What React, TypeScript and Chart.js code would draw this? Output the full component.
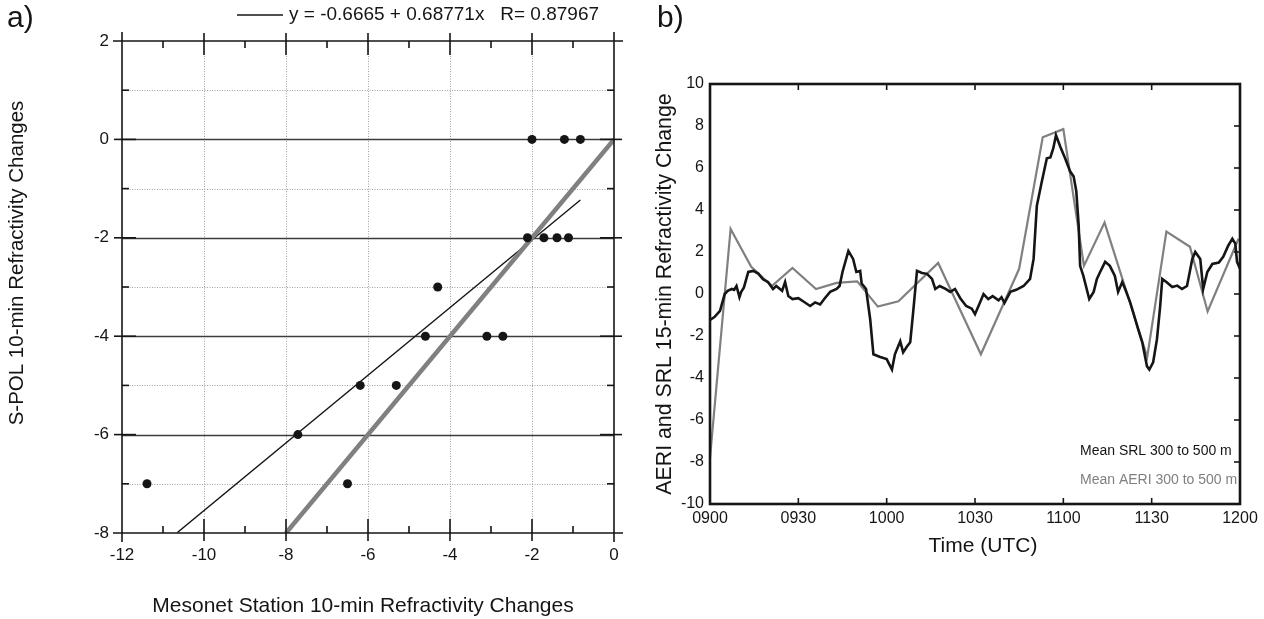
import React, { useEffect, useRef } from "react";
import { Chart, registerables } from "chart.js";

Chart.register(...registerables);

// ---------------- Panel a) data ----------------
const mesonetChanges = [-2.0, -1.21, -0.82, -2.11, -1.71, -1.39, -1.11, -4.3, -4.6, -3.1, -2.71, -6.19, -5.31, -7.71, -11.39, -6.5];
const spolChanges = [0, 0, 0, -2, -2, -2, -2, -3, -4, -4, -4, -5, -5, -6, -7, -7];
const fitIntercept = -0.6665;
const fitSlope = 0.68771;
const fitR = 0.87967;
const fitXRange = [-10.65, -0.82];
const oneToOneRange = [-8, 0];
const panelAXTicks = [-12, -10, -8, -6, -4, -2, 0];
const panelAXMinor = [-11, -9, -7, -5, -3, -1];
const panelAYTicks = [-8, -6, -4, -2, 0, 2];
const panelAYMinor = [-7, -5, -3, -1, 1];

// ---------------- Panel b) data ----------------
const srlMinutes = [
  0, 1.5, 3.4, 5, 6, 7.4, 8.2, 9, 10, 10.6, 11.5, 13, 14.7, 16.4, 18, 19.7, 21.4, 22.5, 24.5, 25.5,
  26.6, 28, 30, 32, 34, 35.7, 37.4, 39, 40.8, 43, 44, 45, 47, 48.6, 49.7, 51, 51.5, 53, 54.4, 55.5,
  57.8, 60, 61.8, 62.8, 64.6, 65.6, 66.9, 68, 69, 70.3, 72, 73.7, 75.4, 76.5, 78, 80, 81.6, 83.2, 85, 87,
  88.9, 90, 91.7, 92.9, 94.5, 96, 98, 99, 100, 102, 104, 106.5, 108.7, 109.9, 111, 112.7, 114.4, 115.6, 116.6, 117.5,
  119, 120.6, 122.3, 123.5, 124.4, 125.2, 125.7, 126.8, 128.8, 130.3, 131.4, 132.5, 134.2, 135.8, 137.5, 138.6, 140, 141, 142.7, 143.7,
  145.4, 146.8, 148.4, 149.2, 150.5, 151.8, 152.9, 153.6, 155, 157, 158.7, 160.3, 162, 163.8, 164.8, 166.5, 167.5, 168.9, 170.6, 172.8,
  174.3, 176, 177.4, 178.4, 179, 180,
];
const srlValues = [
  -1.24, -1.1, -0.8, 0.0, 0.15, 0.24, 0.2, 0.38, -0.15, 0.1, 0.3, 1.05, 1.1, 0.97, 0.7, 0.57, 0.24, 0.38, 0.15, 0.57,
  -0.1, -0.24, -0.2, -0.38, -0.57, -0.4, -0.5, -0.2, 0.1, 0.24, 0.38, 1.05, 2.05, 1.67, 1.05, 1.1, 0.5, 0.24, -1.2, -2.87,
  -3.0, -3.1, -3.6, -2.87, -2.25, -2.78, -2.5, -2.3, -0.86, 1.1, 1.0, 0.96, 0.72, 0.24, 0.38, 0.24, 0.1, 0.24, -0.2, -0.57,
  -0.7, -0.96, -0.4, 0.0, -0.24, -0.1, -0.3, -0.15, -0.43, 0.1, 0.2, 0.38, 0.72, 1.67, 4.2, 5.36, 6.46, 6.5, 6.94, 7.56,
  7.0, 6.46, 5.84, 5.6, 4.9, 3.3, 1.34, 0.86, -0.24, 0.1, 0.72, 1.05, 1.53, 1.34, 0.86, 0.1, 0.57, 0.24, -0.4, -0.86,
  -1.67, -2.3, -3.44, -3.6, -3.25, -2.15, -0.57, 0.72, 0.57, 0.33, 0.4, 0.24, 0.38, 1.67, 2.0, 1.67, 0.24, 1.05, 1.43, 1.5,
  1.77, 2.3, 2.63, 2.4, 1.53, 1.2,
];
const aeriMinutes = [0, 7, 14, 21, 28, 36, 43, 50, 57, 64, 77.5, 92, 105, 113, 120, 127, 134, 148.5, 155, 163, 169, 179.5];
const aeriValues = [-7.8, 3.1, 1.3, 0.38, 1.24, 0.24, 0.53, 0.6, -0.6, -0.35, 1.48, -2.87, 1.2, 7.46, 7.85, 1.34, 3.4, -3.0, 2.97, 2.25, -0.83, 2.63];
const timeTickMinutes = [0, 30, 60, 90, 120, 150, 180];
const timeTickLabels = ["0900", "0930", "1000", "1030", "1100", "1130", "1200"];
const panelBYTicks = [-10, -8, -6, -4, -2, 0, 2, 4, 6, 8, 10];

const FONT = '"Liberation Sans", Arial, Helvetica, sans-serif';
const INK = "#151515";
const GREY = "#808080";

Chart.defaults.font.family = FONT;
Chart.defaults.color = INK;

function seg(ctx: CanvasRenderingContext2D, x1: number, y1: number, x2: number, y2: number) {
  ctx.beginPath();
  ctx.moveTo(x1, y1);
  ctx.lineTo(x2, y2);
  ctx.stroke();
}

const gridA = {
  id: "gridA",
  beforeDatasetsDraw(chart: any) {
    const { ctx, chartArea: ca, scales } = chart;
    const x = scales.x;
    const y = scales.y;
    ctx.save();
    ctx.lineWidth = 1;
    ctx.strokeStyle = "#a0a0a0";
    ctx.setLineDash([1, 1.5]);
    panelAXTicks.slice(1, -1).forEach((v) => {
      const px = Math.round(x.getPixelForValue(v)) + 0.5;
      seg(ctx, px, ca.top, px, ca.bottom);
    });
    panelAYMinor.forEach((v) => {
      const py = Math.round(y.getPixelForValue(v)) + 0.5;
      seg(ctx, ca.left, py, ca.right, py);
    });
    ctx.setLineDash([]);
    ctx.strokeStyle = "#3c3c3c";
    ctx.lineWidth = 1.3;
    panelAYTicks.slice(1, -1).forEach((v) => {
      const py = Math.round(y.getPixelForValue(v)) + 0.5;
      seg(ctx, ca.left, py, ca.right, py);
    });
    ctx.restore();
  },
  afterDraw(chart: any) {
    const { ctx, chartArea: ca, scales } = chart;
    const x = scales.x;
    const y = scales.y;
    ctx.save();
    ctx.strokeStyle = INK;
    ctx.lineWidth = 1.6;
    const ext = 9;
    seg(ctx, ca.left - ext, ca.top, ca.right + ext, ca.top);
    seg(ctx, ca.left - ext, ca.bottom, ca.right + ext, ca.bottom);
    seg(ctx, ca.left, ca.top - ext, ca.left, ca.bottom + ext);
    seg(ctx, ca.right, ca.top - ext, ca.right, ca.bottom + ext);
    panelAXTicks.slice(1, -1).forEach((v) => {
      const px = x.getPixelForValue(v);
      seg(ctx, px, ca.bottom - 14, px, ca.bottom + 8);
      seg(ctx, px, ca.top - 8, px, ca.top + 14);
    });
    panelAXMinor.forEach((v) => {
      const px = x.getPixelForValue(v);
      seg(ctx, px, ca.bottom - 7, px, ca.bottom);
      seg(ctx, px, ca.top, px, ca.top + 7);
    });
    panelAYTicks.slice(1, -1).forEach((v) => {
      const py = y.getPixelForValue(v);
      seg(ctx, ca.left - 8, py, ca.left + 14, py);
      seg(ctx, ca.right - 14, py, ca.right + 8, py);
    });
    panelAYMinor.forEach((v) => {
      const py = y.getPixelForValue(v);
      seg(ctx, ca.left, py, ca.left + 7, py);
      seg(ctx, ca.right - 7, py, ca.right, py);
    });

    // panel label
    ctx.fillStyle = INK;
    ctx.textBaseline = "middle";
    ctx.textAlign = "left";
    ctx.font = `30px ${FONT}`;
    ctx.fillText("a)", 7, 19);

    // legend
    ctx.lineWidth = 1.4;
    seg(ctx, 237, 15, 283, 15);
    ctx.font = `19px ${FONT}`;
    ctx.fillText(`y = ${fitIntercept} + ${fitSlope}x   R= ${fitR}`, 289, 15);

    // y title
    ctx.save();
    ctx.translate(17, 263);
    ctx.rotate(-Math.PI / 2);
    ctx.textAlign = "center";
    ctx.font = `20.5px ${FONT}`;
    ctx.fillText("S-POL 10-min Refractivity Changes", 0, 0);
    ctx.restore();

    // x title
    ctx.textAlign = "center";
    ctx.font = `21px ${FONT}`;
    ctx.fillText("Mesonet Station 10-min Refractivity Changes", 363, 606);
    ctx.restore();
  },
};

const frameB = {
  id: "frameB",
  afterDraw(chart: any) {
    const { ctx, chartArea: ca, scales } = chart;
    const x = scales.x;
    const y = scales.y;
    ctx.save();
    ctx.strokeStyle = INK;
    ctx.lineWidth = 1.6;
    timeTickMinutes.slice(1, -1).forEach((v) => {
      const px = x.getPixelForValue(v);
      seg(ctx, px, ca.top, px, ca.top + 6);
      seg(ctx, px, ca.bottom - 6, px, ca.bottom);
    });
    panelBYTicks.slice(1, -1).forEach((v) => {
      const py = y.getPixelForValue(v);
      seg(ctx, ca.right - 6, py, ca.right, py);
    });
    ctx.lineWidth = 2.6;
    ctx.strokeRect(ca.left, ca.top, ca.right - ca.left, ca.bottom - ca.top);

    ctx.fillStyle = INK;
    ctx.textBaseline = "middle";
    ctx.textAlign = "left";
    ctx.font = `30px ${FONT}`;
    ctx.fillText("b)", 17, 19);

    ctx.font = `14px ${FONT}`;
    ctx.fillText("Mean SRL 300 to 500 m", 440, 451);
    ctx.fillStyle = GREY;
    ctx.fillText("Mean AERI 300 to 500 m", 440, 480);

    // x title
    ctx.fillStyle = INK;
    ctx.textAlign = "center";
    ctx.font = `21px ${FONT}`;
    ctx.fillText("Time (UTC)", 343, 546);
    ctx.restore();
  },
};

function buildChartA(canvas: HTMLCanvasElement) {
  return new Chart(canvas, {
    type: "scatter",
    data: {
      datasets: [
        {
          label: "observations",
          data: mesonetChanges.map((mx, i) => ({ x: mx, y: spolChanges[i] })),
          pointRadius: 4.5,
          pointBackgroundColor: INK,
          pointBorderColor: INK,
          pointBorderWidth: 0,
          showLine: false,
          order: 0,
        },
        {
          label: "1:1",
          data: oneToOneRange.map((v) => ({ x: v, y: v })),
          showLine: true,
          borderColor: GREY,
          borderWidth: 4.5,
          pointRadius: 0,
          order: 1,
        },
        {
          label: "fit",
          data: fitXRange.map((v) => ({ x: v, y: fitIntercept + fitSlope * v })),
          showLine: true,
          borderColor: INK,
          borderWidth: 1.4,
          pointRadius: 0,
          order: 2,
        },
      ],
    },
    options: {
      animation: false,
      responsive: false,
      maintainAspectRatio: false,
      layout: { padding: { left: 0, right: 26, top: 41, bottom: 0 } },
      plugins: { legend: { display: false }, tooltip: { enabled: false } },
      scales: {
        x: {
          type: "linear",
          min: -12,
          max: 0,
          afterFit: (s: any) => {
            s.height = 86;
          },
          afterBuildTicks: (s: any) => {
            s.ticks = panelAXTicks.map((v) => ({ value: v }));
          },
          grid: { display: false, drawTicks: false },
          border: { display: false },
          ticks: { padding: 12, color: INK, font: { size: 17 }, callback: (v: any) => String(v), maxRotation: 0 },
        },
        y: {
          type: "linear",
          min: -8,
          max: 2,
          afterFit: (s: any) => {
            s.width = 122;
          },
          afterBuildTicks: (s: any) => {
            s.ticks = panelAYTicks.map((v) => ({ value: v }));
          },
          grid: { display: false, drawTicks: false },
          border: { display: false },
          ticks: { padding: 13, color: INK, font: { size: 17 }, callback: (v: any) => String(v) },
        },
      },
    },
    plugins: [gridA],
  } as any);
}

function buildChartB(canvas: HTMLCanvasElement) {
  return new Chart(canvas, {
    type: "scatter",
    data: {
      datasets: [
        {
          label: "Mean SRL 300 to 500 m",
          data: srlMinutes.map((m, i) => ({ x: m, y: srlValues[i] })),
          showLine: true,
          borderColor: INK,
          borderWidth: 2.6,
          pointRadius: 0,
          order: 0,
        },
        {
          label: "Mean AERI 300 to 500 m",
          data: aeriMinutes.map((m, i) => ({ x: m, y: aeriValues[i] })),
          showLine: true,
          borderColor: GREY,
          borderWidth: 2.2,
          pointRadius: 0,
          order: 1,
        },
      ],
    },
    options: {
      animation: false,
      responsive: false,
      maintainAspectRatio: false,
      layout: { padding: { left: 0, right: 24, top: 84, bottom: 0 } },
      plugins: { legend: { display: false }, tooltip: { enabled: false } },
      scales: {
        x: {
          type: "linear",
          min: 0,
          max: 180,
          afterFit: (s: any) => {
            s.height = 115;
          },
          afterBuildTicks: (s: any) => {
            s.ticks = timeTickMinutes.map((v) => ({ value: v }));
          },
          grid: { display: false, drawTicks: false },
          border: { display: false },
          ticks: {
            padding: 5,
            color: INK,
            font: { size: 16 },
            maxRotation: 0,
            callback: (v: any) => timeTickLabels[timeTickMinutes.indexOf(Number(v))] ?? "",
          },
        },
        y: {
          type: "linear",
          min: -10,
          max: 10,
          afterFit: (s: any) => {
            s.width = 70;
          },
          afterBuildTicks: (s: any) => {
            s.ticks = panelBYTicks.map((v) => ({ value: v }));
          },
          grid: { display: false, drawTicks: false },
          border: { display: false },
          ticks: { padding: 6, color: INK, font: { size: 16 }, callback: (v: any) => String(v) },
          title: {
            display: true,
            text: "AERI and SRL 15-min Refractivity Change",
            color: INK,
            font: { size: 21.3 },
            padding: { top: 12, bottom: 0 },
          },
        },
      },
    },
    plugins: [frameB],
  } as any);
}

export default function App() {
  const refA = useRef<HTMLCanvasElement | null>(null);
  const refB = useRef<HTMLCanvasElement | null>(null);

  useEffect(() => {
    if (!refA.current || !refB.current) return;
    const a = buildChartA(refA.current);
    const b = buildChartB(refB.current);
    return () => {
      a.destroy();
      b.destroy();
    };
  }, []);

  return (
    <div style={{ position: "fixed", left: 0, top: 0, width: 1264, height: 619, background: "#fff", overflow: "hidden" }}>
      <canvas ref={refA} width={640} height={619} style={{ position: "absolute", left: 0, top: 0, width: 640, height: 619 }} />
      <canvas ref={refB} width={624} height={619} style={{ position: "absolute", left: 640, top: 0, width: 624, height: 619 }} />
    </div>
  );
}
